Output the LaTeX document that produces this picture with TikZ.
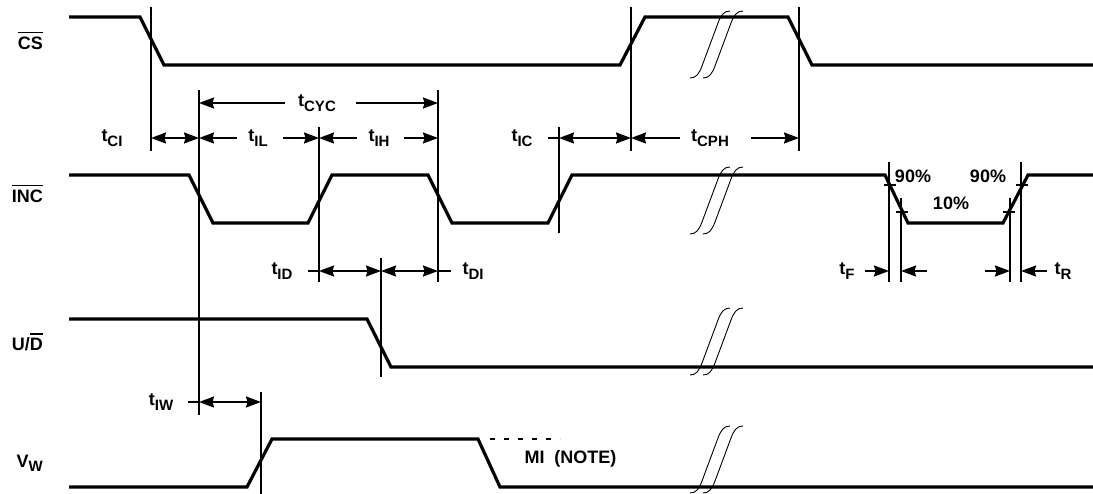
\documentclass[tikz,border=0pt]{standalone}
\usepackage{fontspec}
\setmainfont{Liberation Sans}
\usetikzlibrary{arrows.meta}
\newcommand{\tsub}[2]{#1\raisebox{-4.5pt}{\fontsize{15}{15}\selectfont #2}}
\newcommand{\ovl}[1]{\vbox{\hrule height 1.3pt\kern 4pt\hbox{#1}}}
\begin{document}
\begin{tikzpicture}[x=1pt,y=-1pt,
  sig/.style={line width=3.2pt, line join=miter},
  refl/.style={line width=1.8pt},
  tickl/.style={line width=1.4pt},
  arr/.style={line width=1.8pt,-{Stealth[length=15pt,width=11pt,inset=1.5pt]}},
  darr/.style={line width=1.8pt,{Stealth[length=15pt,width=11pt,inset=1.5pt]}-{Stealth[length=15pt,width=11pt,inset=1.5pt]}},
  stub/.style={line width=1.8pt},
  brk/.style={line width=0.9pt},
  lbl/.style={font=\fontsize{18}{20}\selectfont\bfseries, inner sep=0pt, anchor=base},
  sname/.style={font=\fontsize{18}{20}\selectfont\bfseries, inner sep=0pt, anchor=base east}]
\useasboundingbox (0,0) rectangle (1093,494);

% signal names
\node[sname] (nCS) at (43,50) {\ovl{CS}};
\node[sname] (nINC) at (43,203) {\ovl{INC}};
\node[sname] (nUD) at (43,351) {U/\ovl{D}};
\node[sname] (nVW) at (43,467) {\tsub{V}{W}};

% signals
\draw[sig] (69,17) -- (140,17) -- (164,65) -- (620,65) -- (645,17) -- (788,17) -- (812,65) -- (1093,65);
\draw[sig] (69,175) -- (189,175) -- (213,223) -- (308,223) -- (332,175) -- (428,175) -- (452,223)
  -- (548,223) -- (572,175) -- (885,175) -- (908,223) -- (1003,223) -- (1028,175) -- (1093,175);
\draw[sig] (69,319) -- (367,319) -- (391,367) -- (1093,367);
\draw[sig] (69,487) -- (247,487) -- (272,439) -- (478,439) -- (500,487) -- (1093,487);
\draw[line width=1.2pt, dash pattern=on 5pt off 9pt] (490,439) -- (560,439);
\node[lbl] (mi) at (570.5,463) {MI\ \ (NOTE)};

% break marks
\foreach \yb in {78,234,375,493}{
  \foreach \xo in {690,703}{
    \draw[brk] (\xo,\yb) .. controls (\xo+6,\yb) and (\xo+9,\yb-4) .. (\xo+12,\yb-12)
      -- (\xo+28,\yb-55) .. controls (\xo+31,\yb-63) and (\xo+34,\yb-67) .. (\xo+40,\yb-67);
  }
}

% reference lines
\coordinate (a1) at (151,7);   \coordinate (a2) at (151,151);
\coordinate (b1) at (199,90);  \coordinate (b2) at (199,415);
\coordinate (c1) at (319,127); \coordinate (c2) at (319,282);
\coordinate (d1) at (438,90);  \coordinate (d2) at (438,282);
\coordinate (e1) at (559,127); \coordinate (e2) at (559,233);
\coordinate (f1) at (631,7);   \coordinate (f2) at (631,151);
\coordinate (g1) at (799,7);   \coordinate (g2) at (799,151);
\coordinate (h1) at (381,258); \coordinate (h2) at (381,377);
\coordinate (i1) at (261,392); \coordinate (i2) at (261,494);
\coordinate (j1) at (889,162); \coordinate (j2) at (889,282);
\coordinate (k1) at (901,198); \coordinate (k2) at (901,282);
\coordinate (l1) at (1010,198);\coordinate (l2) at (1010,282);
\coordinate (m1) at (1021,162);\coordinate (m2) at (1021,282);
\foreach \p in {a,b,c,d,e,f,g,h,i,j,k,l,m}{\draw[refl] (\p1) -- (\p2);}

% 90% / 10% ticks
\draw[tickl] (884,185) -- (896,185);
\draw[tickl] (896,212) -- (908,212);
\draw[tickl] (1003,212) -- (1015,212);
\draw[tickl] (1016,185) -- (1028,185);
\node[lbl] (p1) at (913,183) {90\%};
\node[lbl] (p2) at (951,210) {10\%};
\node[lbl] (p3) at (988,183) {90\%};

% tCYC
\draw[arr] (285,103) -- (199,103);
\draw[arr] (356,103) -- (438,103);
\node[lbl] (tcyc) at (317,107) {\tsub{t}{CYC}};

% row at 138
\draw[darr] (151,138) -- (199,138);
\node[lbl] (tci) at (112,142) {\tsub{t}{CI}};
\draw[arr] (237,138) -- (199,138);
\draw[arr] (283,138) -- (319,138);
\node[lbl] (til) at (258,142) {\tsub{t}{IL}};
\draw[arr] (357,138) -- (319,138);
\draw[arr] (404,138) -- (438,138);
\node[lbl] (tih) at (379,142) {\tsub{t}{IH}};
\draw[stub] (548,138) -- (559,138);
\draw[darr] (559,138) -- (631,138);
\node[lbl] (tic) at (522,142) {\tsub{t}{IC}};
\draw[arr] (680,138) -- (631,138);
\draw[arr] (751,138) -- (799,138);
\node[lbl] (tcph) at (710,142) {\tsub{t}{CPH}};

% tID / tDI
\draw[stub] (308,271) -- (319,271);
\draw[darr] (319,271) -- (381,271);
\draw[darr] (381,271) -- (438,271);
\draw[stub] (438,271) -- (451,271);
\node[lbl] (tid) at (282,275) {\tsub{t}{ID}};
\node[lbl] (tdi) at (473,275) {\tsub{t}{DI}};

% tF / tR
\draw[arr] (865,271) -- (889,271);
\draw[arr] (927,271) -- (901,271);
\draw[arr] (985,271) -- (1010,271);
\draw[arr] (1047,271) -- (1021,271);
\node[lbl] (tf) at (847,275) {\tsub{t}{F}};
\node[lbl] (tr) at (1063,275) {\tsub{t}{R}};

% tIW
\draw[stub] (188,402) -- (199,402);
\draw[darr] (199,402) -- (261,402);
\node[lbl] (tiw) at (161,406) {\tsub{t}{IW}};
\end{tikzpicture}
\end{document}
